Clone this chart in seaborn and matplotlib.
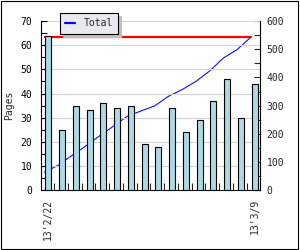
import numpy as np
import pandas as pd
import matplotlib
matplotlib.use("Agg")
import matplotlib.pyplot as plt
from matplotlib.lines import Line2D
from matplotlib.patches import Rectangle
import seaborn as sns

# ---- data ----
days = ["2/22", "2/23", "2/24", "2/25", "2/26", "2/27", "2/28", "3/1",
        "3/2", "3/3", "3/4", "3/5", "3/6", "3/7", "3/8", "3/9"]
pages = [64, 25, 35, 33, 36, 34, 35, 19, 18, 34, 24, 29, 37, 46, 30, 44]
total = [64, 89, 124, 157, 193, 227, 262, 281, 299, 333, 357, 386, 423, 469, 499, 543]
tick_labels = ["13'2/22", "13'3/9"]
series_label = "Total"
y_label = "Pages"

sns.set_style("white")
plt.rcParams["font.family"] = ["DejaVu Sans Mono"]
plt.rcParams["font.size"] = 7

W, H = 300, 250
fig = plt.figure(figsize=(W / 100, H / 100), dpi=100)
ax = fig.add_axes([40.7 / W, (H - 190.3) / H, 218.8 / W, 169.3 / H])

df = pd.DataFrame({"day": days, "pages": pages})
sns.barplot(data=df, x="day", y="pages", ax=ax, color="#add8e6", saturation=1,
            width=0.44, edgecolor="black", linewidth=0.8, zorder=3)

ax2 = ax.twinx()
xline = np.arange(len(days)) - 0.27
sns.lineplot(x=xline, y=total, ax=ax2, color="#0000ff", linewidth=0.75, zorder=1)
sns.lineplot(x=[xline[0], xline[-1]], y=[total[-1], total[-1]], ax=ax2,
             color="#ff0000", linewidth=1.6, zorder=1)

ax.set_zorder(ax2.get_zorder() + 1)
ax.patch.set_visible(False)

ax.set_xlim(-0.55, 15.35)
ax.set_ylim(0, 70)
ax2.set_ylim(0, 600)

# left axis
ax.set_yticks(np.arange(0, 71, 10))
ax.set_yticks(np.arange(0, 71, 5), minor=True)
ax.tick_params(axis="y", which="both", direction="in", length=4, width=0.8,
               pad=6, colors="black", labelsize=7, left=True)
ax.yaxis.grid(True, which="major", color="#d3d3d3", linewidth=0.8)
ax.set_axisbelow(True)
ax.set_ylabel(y_label, fontsize=7, labelpad=5)

# x axis
ax.set_xticks([0, len(days) - 1])
ax.set_xticklabels(tick_labels, rotation=90)
ax.set_xticks(np.arange(len(days) - 1) + 0.42, minor=True)
ax.tick_params(axis="x", which="major", length=0, pad=6, labelsize=7)
ax.tick_params(axis="x", which="minor", direction="in", length=5, width=0.8,
               bottom=True)
ax.set_xlabel("")

# right axis
ax2.set_yticks(np.arange(0, 601, 100))
ax2.set_yticks(np.arange(0, 601, 50), minor=True)
ax2.tick_params(axis="y", which="both", direction="in", length=4, width=0.8,
                pad=5, labelsize=7, right=True)
ax2.set_ylabel("")

for s in ["left", "bottom", "right"]:
    ax.spines[s].set_visible(True)
    ax.spines[s].set_color("black")
    ax.spines[s].set_linewidth(0.8)
ax.spines["top"].set_visible(False)
for s in ax2.spines.values():
    s.set_visible(False)

handle = Line2D([], [], color="#0000ff", linewidth=1.6)
leg = ax.legend(handles=[handle], labels=[series_label], loc="upper left",
                bbox_to_anchor=(0.088, 1.047), frameon=True, fancybox=False,
                shadow={"color": "#c0c0c0", "alpha": 1}, edgecolor="black",
                facecolor="#ebe9f0", framealpha=1, borderpad=0.55,
                handlelength=1.0, handletextpad=0.9, fontsize=7,
                borderaxespad=0)
leg.get_frame().set_linewidth(0.8)

fig.patches.append(Rectangle((0.002, 0.006), 0.991, 0.99, transform=fig.transFigure,
                             fill=False, edgecolor="black", linewidth=0.8))

fig.savefig("out.png", dpi=100, facecolor="white")
